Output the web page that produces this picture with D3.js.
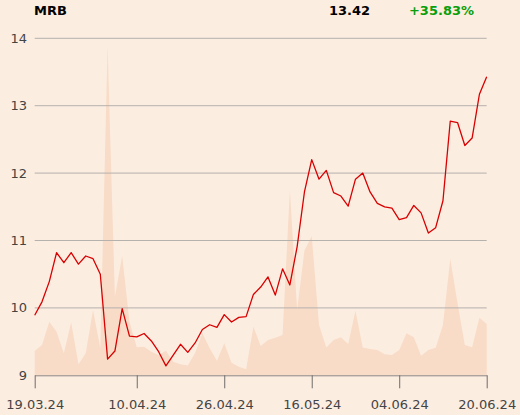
<!DOCTYPE html>
<html>
<head>
<meta charset="utf-8">
<script src="https://cdn.jsdelivr.net/npm/d3@7/dist/d3.min.js"></script>
<style>
  html, body { margin: 0; padding: 0; background: #fcede1; }
  svg { display: block; }
</style>
</head>
<body>
<svg id="chart" width="520" height="415"></svg>
<script>
const symbol = "MRB";
const lastPrice = "13.42";
const changePct = "+35.83%";

// closing prices per trading day (19.03.24 .. 20.06.24)
const prices = [
  9.89, 10.09, 10.39, 10.82, 10.67, 10.82, 10.65, 10.77, 10.73, 10.50,
  9.24, 9.36, 9.99, 9.58, 9.57, 9.62, 9.51, 9.35, 9.14, 9.30,
  9.46, 9.34, 9.48, 9.68, 9.75, 9.71, 9.90, 9.79, 9.86, 9.87,
  10.20, 10.31, 10.46, 10.19, 10.58, 10.34, 10.91, 11.72, 12.20, 11.91,
  12.04, 11.71, 11.66, 11.51, 11.91, 12.00, 11.72, 11.55, 11.50, 11.48,
  11.31, 11.34, 11.52, 11.41, 11.11, 11.19, 11.59, 12.77, 12.75, 12.41,
  12.52, 13.17, 13.43
];

// traded volume per day (relative units)
const volumes = [
  2430, 3030, 5360, 4360, 2200, 5300, 1100, 2200, 6530, 2700,
  32930, 7860, 11930, 5360, 2800, 2860, 2360, 2030, 2460, 1360,
  1100, 980, 2230, 4200, 2700, 1460, 3200, 1260, 860, 600,
  4860, 2930, 3530, 3760, 4030, 18530, 6530, 12480, 13930, 5030,
  2780, 3530, 3800, 3130, 6460, 2780, 2630, 2530, 2100, 2030,
  2530, 4200, 3800, 1960, 2530, 2760, 5030, 11660, 7200, 3030,
  2800, 5760, 5130
];

const yTicks = [9, 10, 11, 12, 13, 14];
const xTickIndex = [0, 14, 26, 38, 50, 62];
const xTickLabels = ["19.03.24", "10.04.24", "26.04.24", "16.05.24", "04.06.24", "20.06.24"];

const svg = d3.select("#chart");
const mLeft = 34.7, mRight = 486.7, mTop = 38.3, mBottom = 375.3;

const x = d3.scaleLinear().domain([0, prices.length - 1]).range([mLeft, mRight]);
const y = d3.scaleLinear().domain([9, 14]).range([mBottom, mTop]);
const yv = d3.scaleLinear().domain([0, 33700]).range([mBottom, mTop]);

svg.append("rect").attr("width", 520).attr("height", 415).attr("fill", "#fcede1");

// volume area
const area = d3.area()
  .x((d, i) => x(i))
  .y0(mBottom)
  .y1(d => yv(d));
svg.append("path")
  .datum(volumes)
  .attr("d", area)
  .attr("fill", "#f8dcc7");

// grid
const grid = svg.append("g");
grid.selectAll("line").data(yTicks.filter(t => t !== 9)).join("line")
  .attr("x1", mLeft).attr("x2", mRight)
  .attr("y1", d => y(d)).attr("y2", d => y(d))
  .attr("stroke", "#b5b1ad").attr("stroke-width", 1);

// y labels
svg.append("g").selectAll("text").data(yTicks).join("text")
  .attr("x", 27).attr("y", d => y(d))
  .attr("dy", "0.35em")
  .attr("text-anchor", "end")
  .attr("font-family", "DejaVu Sans")
  .attr("font-size", 13)
  .attr("fill", "#444")
  .text(d => d);

// x axis
const xAxis = d3.axisBottom(x)
  .tickValues(xTickIndex)
  .tickFormat((d, i) => xTickLabels[i])
  .tickSize(13)
  .tickSizeOuter(0)
  .tickPadding(11);
const gx = svg.append("g").attr("transform", `translate(0,${mBottom})`).call(xAxis);
gx.select(".domain").attr("stroke", "#8a8785");
gx.selectAll(".tick line").attr("stroke", "#6f6c6a");
gx.selectAll(".tick text")
  .attr("font-family", "DejaVu Sans")
  .attr("font-size", 13)
  .attr("fill", "#444");

// price line
const line = d3.line().x((d, i) => x(i)).y(d => y(d));
svg.append("path")
  .datum(prices)
  .attr("d", line)
  .attr("fill", "none")
  .attr("stroke", "#d80000")
  .attr("stroke-width", 1.3)
  .attr("stroke-linejoin", "round");

// header
svg.append("text").attr("x", 34).attr("y", 14.5)
  .attr("font-family", "DejaVu Sans").attr("font-weight", "bold").attr("font-size", 13)
  .attr("fill", "#000").text(symbol);
svg.append("text").attr("x", 370).attr("y", 14.5).attr("text-anchor", "end")
  .attr("font-family", "DejaVu Sans").attr("font-weight", "bold").attr("font-size", 13)
  .attr("fill", "#000").text(lastPrice);
svg.append("text").attr("x", 474).attr("y", 14.5).attr("text-anchor", "end")
  .attr("font-family", "DejaVu Sans").attr("font-weight", "bold").attr("font-size", 13)
  .attr("fill", "#0a9e0a").text(changePct);
</script>
</body>
</html>
